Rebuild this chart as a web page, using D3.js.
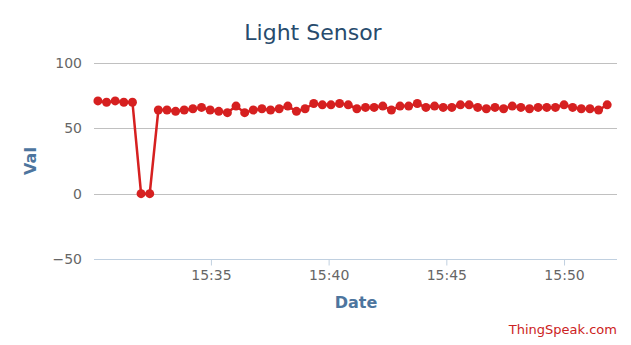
<!DOCTYPE html>
<html>
<head>
<meta charset="utf-8">
<script src="https://cdn.jsdelivr.net/npm/d3@7"></script>
<style>
  body { margin: 0; background: #fff; }
  svg { display: block; font-family: "DejaVu Sans", Verdana, sans-serif; }
</style>
</head>
<body>
<svg width="631" height="345"></svg>
<script>
// sample times (HH:MM:SS) and light readings
var times = [
  "15:30:12", "15:30:34", "15:30:56", "15:31:18", "15:31:40", "15:32:02", "15:32:24", "15:32:46",
  "15:33:08", "15:33:30", "15:33:52", "15:34:14", "15:34:36", "15:34:58", "15:35:20", "15:35:42",
  "15:36:04", "15:36:26", "15:36:48", "15:37:10", "15:37:32", "15:37:54", "15:38:16", "15:38:38",
  "15:39:00", "15:39:22", "15:39:44", "15:40:06", "15:40:28", "15:40:50", "15:41:12", "15:41:34",
  "15:41:56", "15:42:18", "15:42:40", "15:43:02", "15:43:24", "15:43:46", "15:44:08", "15:44:30",
  "15:44:52", "15:45:14", "15:45:36", "15:45:58", "15:46:20", "15:46:42", "15:47:04", "15:47:26",
  "15:47:48", "15:48:10", "15:48:32", "15:48:54", "15:49:16", "15:49:38", "15:50:00", "15:50:22",
  "15:50:44", "15:51:06", "15:51:28", "15:51:50"
];
var values = [
  71, 70, 71, 70, 70, 0, 0, 64,
  64, 63, 64, 65, 66, 64, 63, 62,
  67, 62, 64, 65, 64, 65, 67, 63,
  65, 69, 68, 68, 69, 68, 65, 66,
  66, 67, 64, 67, 67, 69, 66, 67,
  66, 66, 68, 68, 66, 65, 66, 65,
  67, 66, 65, 66, 66, 66, 68, 66,
  65, 65, 64, 68
];
var yTicks = [-50, 0, 50, 100];
var xStart = "15:30:02", xEnd = "15:52:15";

var parseTime = d3.timeParse("%H:%M:%S");
var data = times.map(function (t, i) { return { t: parseTime(t), v: values[i] }; });

var svg = d3.select("svg");
var plotLeft = 94, plotRight = 617, plotTop = 63, plotBottom = 259;

var x = d3.scaleTime()
    .domain([parseTime(xStart), parseTime(xEnd)])
    .range([plotLeft, plotRight]);
var y = d3.scaleLinear()
    .domain([-50, 100])
    .range([plotBottom, plotTop]);

// title
svg.append("text")
    .attr("x", 313).attr("y", 40)
    .attr("text-anchor", "middle")
    .style("font-size", "22px")
    .style("fill", "#274b6d")
    .text("Light Sensor");

// horizontal grid
svg.append("g")
    .selectAll("line")
    .data(yTicks.filter(function (d) { return d !== -50; }))
    .enter().append("line")
    .attr("x1", plotLeft).attr("x2", plotRight)
    .attr("y1", function (d) { return Math.round(y(d)) + 0.5; })
    .attr("y2", function (d) { return Math.round(y(d)) + 0.5; })
    .style("stroke", "#c0c0c0");

// y labels
svg.append("g")
    .selectAll("text")
    .data(yTicks)
    .enter().append("text")
    .attr("x", 82)
    .attr("y", function (d) { return y(d) + 5; })
    .attr("text-anchor", "end")
    .style("font-size", "14px")
    .style("fill", "#666")
    .text(function (d) { return d < 0 ? "\u2212" + Math.abs(d) : d; });

// x axis
var xAxis = d3.axisBottom(x)
    .ticks(d3.timeMinute.every(5))
    .tickFormat(d3.timeFormat("%H:%M"))
    .tickSize(6)
    .tickPadding(5);
var gx = svg.append("g")
    .attr("transform", "translate(0," + (Math.round(y(-50)) + 0.5) + ")")
    .call(xAxis);
gx.select(".domain").style("stroke", "#c0d0e0").attr("d", "M" + plotLeft + ",0H" + plotRight);
gx.selectAll(".tick line").style("stroke", "#c0d0e0");
gx.selectAll(".tick text")
    .style("font-size", "14px")
    .style("fill", "#666")
    .style("font-family", "DejaVu Sans, Verdana, sans-serif");

// axis titles
svg.append("text")
    .attr("transform", "translate(36,161) rotate(-90)")
    .attr("text-anchor", "middle")
    .style("font-size", "16px")
    .style("font-weight", "bold")
    .style("fill", "#4d759e")
    .text("Val");

svg.append("text")
    .attr("x", 356).attr("y", 308)
    .attr("text-anchor", "middle")
    .style("font-size", "16px")
    .style("font-weight", "bold")
    .style("fill", "#4d759e")
    .text("Date");

// series
var line = d3.line()
    .x(function (d) { return x(d.t); })
    .y(function (d) { return y(d.v); });

svg.append("path")
    .datum(data)
    .attr("d", line)
    .style("fill", "none")
    .style("stroke", "#d62020")
    .style("stroke-width", 2.5);

svg.append("g")
    .selectAll("circle")
    .data(data)
    .enter().append("circle")
    .attr("cx", function (d) { return x(d.t); })
    .attr("cy", function (d) { return y(d.v); })
    .attr("r", 4.5)
    .style("fill", "#d62020");

// credits
svg.append("text")
    .attr("x", 617).attr("y", 334)
    .attr("text-anchor", "end")
    .style("font-size", "13px")
    .style("fill", "#cc2222")
    .text("ThingSpeak.com");
</script>
</body>
</html>
